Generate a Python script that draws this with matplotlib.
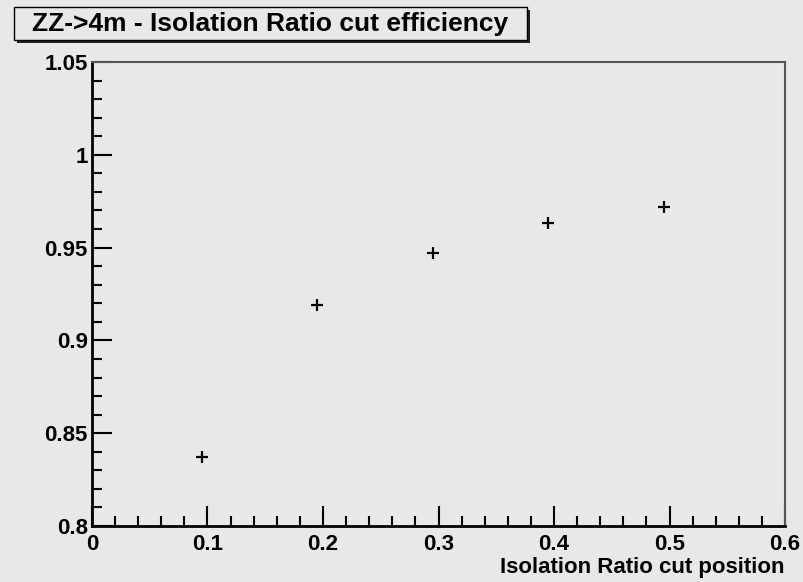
import numpy as np
import matplotlib
matplotlib.use("Agg")
from matplotlib import pyplot as plt
from matplotlib.patches import Rectangle
from matplotlib.ticker import MultipleLocator

# efficiency vs isolation ratio cut
cut_pos = [0.095, 0.195, 0.295, 0.395, 0.495]
eff = [0.837, 0.919, 0.947, 0.963, 0.972]

title = "ZZ->4m - Isolation Ratio cut efficiency"
xlabel = "Isolation Ratio cut position"

bg = "#e8e8e8"
plt.rcParams['font.family'] = ['Liberation Sans', 'DejaVu Sans']
plt.rcParams['font.weight'] = 'bold'

W, H = 804, 582
fig = plt.figure(figsize=(W/100, H/100), dpi=100, facecolor=bg)
ax = fig.add_axes([92/W, 1-526/H, (785-92)/W, (526-62)/H], facecolor=bg)

ax.plot(cut_pos, eff, ls='none', marker='+', color='black', ms=9, mew=1.6)

ax.set_xlim(0, 0.6)
ax.set_ylim(0.8, 1.05)
ax.xaxis.set_major_locator(MultipleLocator(0.1))
ax.xaxis.set_minor_locator(MultipleLocator(0.02))
ax.yaxis.set_major_locator(MultipleLocator(0.05))
ax.yaxis.set_minor_locator(MultipleLocator(0.01))
ax.xaxis.set_major_formatter(plt.FuncFormatter(lambda v, p: f"{v:g}"))
ax.yaxis.set_major_formatter(plt.FuncFormatter(lambda v, p: f"{v:g}"))

ax.tick_params(which='both', direction='in', top=False, right=False,
               color='black', width=1.5, labelsize=16)
ax.tick_params(which='major', length=14.5)
ax.tick_params(which='minor', length=7)
ax.tick_params(axis='y', which='major', pad=3)
ax.tick_params(axis='x', which='major', pad=6)
for lab in ax.get_xticklabels() + ax.get_yticklabels():
    lab.set_fontweight('bold')

for s in ['left', 'bottom']:
    ax.spines[s].set_linewidth(2)
    ax.spines[s].set_color('black')
for s in ['top', 'right']:
    ax.spines[s].set_linewidth(1.5)
    ax.spines[s].set_color('#555555')

fig.text(785/W, 1-567/H, xlabel, ha='right', va='center',
         fontsize=16, fontweight='bold')

# title box with drop shadow
x0, y0, x1, y1 = 14, 7, 527, 40
shadow = Rectangle(((x0+3)/W, 1-(y1+3)/H), (x1-x0)/W, (y1-y0)/H,
                   transform=fig.transFigure, facecolor='#222222',
                   edgecolor='none', zorder=1)
box = Rectangle((x0/W, 1-y1/H), (x1-x0)/W, (y1-y0)/H,
                transform=fig.transFigure, facecolor=bg,
                edgecolor='black', lw=1, zorder=2)
fig.patches.extend([shadow, box])
fig.text((x0+x1)/2/W, 1-(y0+y1)/2/H, title, ha='center', va='center',
         fontsize=19, fontweight='bold', zorder=3)

fig.savefig("out.png", dpi=100, facecolor=bg)
